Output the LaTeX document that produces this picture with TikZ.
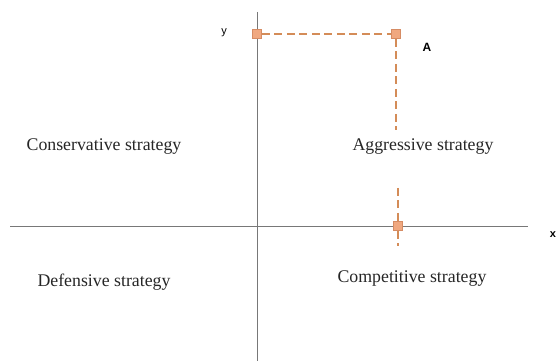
\documentclass[tikz,border=0pt]{standalone}
\usepackage{fontspec}
\setmainfont{Liberation Serif}
\newfontfamily\labsans{Liberation Sans}
\definecolor{dashcol}{RGB}{212,140,88}
\definecolor{sqfill}{RGB}{240,168,128}
\definecolor{sqdraw}{RGB}{214,140,100}
\definecolor{axiscol}{RGB}{120,120,120}
\tikzset{
  axisline/.style={draw=axiscol, line width=0.9pt},
  dashline/.style={draw=dashcol, line width=2pt, dash pattern=on 8pt off 4.5pt},
  sq/.style={rectangle, fill=sqfill, draw=sqdraw, line width=0.6pt, minimum size=9pt, inner sep=0pt},
  quad/.style={font=\fontsize{17.8}{20}\selectfont, text=black!85, inner sep=0pt},
  axlab/.style={font=\labsans\fontsize{11}{13}\selectfont, inner sep=0pt}
}
\begin{document}
\begin{tikzpicture}[x=1pt,y=-1pt]
\useasboundingbox (0,0) rectangle (558,361);
% axes
\coordinate (ytop) at (257,12);
\coordinate (ybot) at (257,361);
\coordinate (xl) at (10,226);
\coordinate (xr) at (528,226);
\draw[axisline] (ytop) -- (ybot);
\draw[axisline] (xl) -- (xr);
% squares
\node[sq] (sy) at (257,34) {};
\node[sq] (sa) at (396,34) {};
\node[sq] (sx) at (398,226) {};
\coordinate (aend) at (396,130);
\coordinate (xtop) at (398,188);
\coordinate (xbot) at (398,246);
% dashed lines
\draw[dashline] (sy.east) -- (sa.west);
\draw[dashline] (sa.south) -- (aend);
\draw[dashline] (xtop) -- (sx.north);
\draw[dashline] (sx.south) -- (xbot);
% axis labels
\node[axlab] (ly) at (224,33) {y};
\node[axlab, font=\labsans\bfseries\fontsize{12}{14}\selectfont] (la) at (427,47) {A};
\node[axlab, font=\labsans\bfseries\fontsize{11}{13}\selectfont] (lx) at (553,235) {x};
% quadrant labels
\node[quad] (cons) at (104,147) {Conservative strategy};
\node[quad] (aggr) at (423,147) {Aggressive strategy};
\node[quad] (def) at (104,282) {Defensive strategy};
\node[quad] (comp) at (412,279) {Competitive strategy};
\end{tikzpicture}
\end{document}
